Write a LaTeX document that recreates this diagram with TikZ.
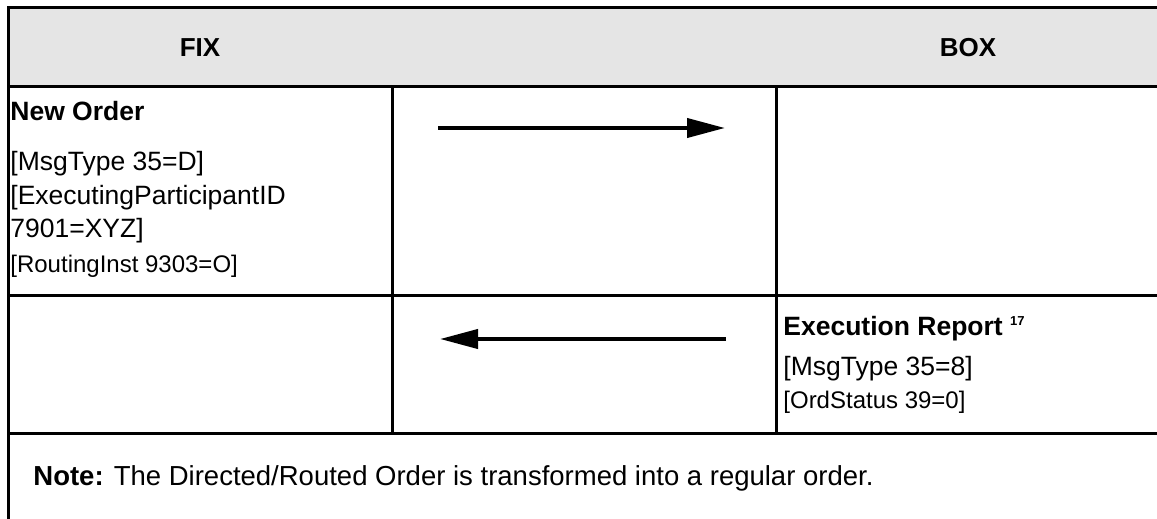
\documentclass[tikz,border=0pt]{standalone}
\usepackage{fontspec}
\setmainfont{Liberation Sans}
\usetikzlibrary{arrows.meta}

\begin{document}
\begin{tikzpicture}[
  x=0.5pt, y=-0.5pt,
  rule/.style={line width=1.5pt, black},
  head/.style={font=\fontsize{13}{15}\selectfont\bfseries, anchor=base, inner sep=0pt},
  title/.style={font=\fontsize{13.25}{15}\selectfont\bfseries, anchor=base west, inner sep=0pt},
  field/.style={font=\fontsize{13.25}{15}\selectfont, anchor=base west, inner sep=0pt},
  tag/.style={font=\fontsize{12}{14}\selectfont, anchor=base west, inner sep=0pt},
  notetxt/.style={font=\fontsize{13.75}{16}\selectfont, anchor=base west, inner sep=0pt},
  msg/.style={line width=2pt, -{Triangle[length=19pt, width=9.5pt]}},
]
\useasboundingbox (0,0) rectangle (1157,519);

% === Header band ===
\fill[black!10] (8,8) rectangle (1157,87);
\node[head] (fixHead) at (200,57) {FIX};
\node[head] (boxHead) at (968,57) {BOX};

% === Table rules ===
\draw[rule] (1157,8) -- (8,8) -- (8,519);
\draw[rule] (8,87) -- (1157,87);
\draw[rule] (8,295) -- (1157,295);
\draw[rule] (8,433) -- (1157,433);
\draw[rule] (392,87) -- (392,433);
\draw[rule] (776,87) -- (776,433);

% === Row 1: New Order, FIX -> BOX ===
\node[title] (newOrder) at (10,120) {New Order};
\node[field] (msgTypeD) at (10,170) {[MsgType 35=D]};
\node[field] (execPart) at (10,205) {[ExecutingParticipantID};
\node[field] (execVal) at (10,237) {7901=XYZ]};
\node[tag] (routing) at (10,272) {[RoutingInst 9303=O]};

\coordinate (orderFrom) at (438,128);
\coordinate (orderTo) at (725,128);
\draw[msg] (orderFrom) -- (orderTo);

% === Row 2: Execution Report, BOX -> FIX ===
\node[title] (execReport) at (783,335) {Execution Report \raisebox{5pt}{\fontsize{6.5}{7}\selectfont 17}};
\node[field] (msgType8) at (783,375) {[MsgType 35=8]};
\node[tag] (ordStatus) at (783,408) {[OrdStatus 39=0]};

\coordinate (reportFrom) at (726,339);
\coordinate (reportTo) at (440,339);
\draw[msg] (reportFrom) -- (reportTo);

% === Note ===
\node[notetxt] (note) at (33,485) {\textbf{Note:} The Directed/Routed Order is transformed into a regular order.};

\end{tikzpicture}
\end{document}
